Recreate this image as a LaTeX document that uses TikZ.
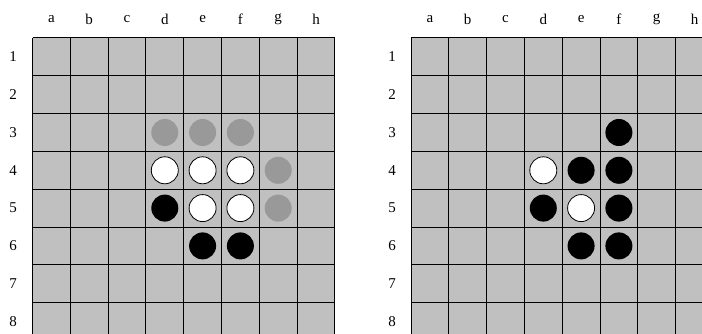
\documentclass[tikz,border=0pt]{standalone}
\usepackage{fontspec}
\setmainfont{Liberation Serif}
\definecolor{boardgray}{HTML}{C0C0C0}
\definecolor{hintgray}{HTML}{999999}
\tikzset{
  gridline/.style={draw=black, line width=1pt},
  disc/.style={circle, minimum size=27pt, inner sep=0pt, outer sep=0pt},
  blackdisc/.style={disc, fill=black},
  whitedisc/.style={disc, fill=white, draw=black, line width=0.8pt},
  hintdisc/.style={disc, fill=hintgray},
  lbl/.style={font=\fontsize{15}{15}\selectfont, inner sep=0pt}
}
\begin{document}
\begin{tikzpicture}[x=1pt,y=-1pt]
\useasboundingbox (0,0) rectangle (702,334);
\clip (0,0) rectangle (702,334);
\def\cs{37.8}
% ---------- left board ----------
\begin{scope}[shift={(32.5,38)}]
  \fill[boardgray] (0,0) rectangle (8*\cs,8*\cs);
  \foreach \i in {0,...,8} {
    \draw[gridline] (\i*\cs,0) -- (\i*\cs,8*\cs);
    \draw[gridline] (0,\i*\cs) -- (8*\cs,\i*\cs);
  }
  \foreach \l [count=\k] in {a,b,c,d,e,f,g,h}
    \node[lbl] (Lcol\k) at ({(\k-0.5)*\cs},-19) {\l};
  \foreach \k in {1,...,8}
    \node[lbl] (Lrow\k) at (-19.5,{(\k-0.5)*\cs}) {\k};
  \foreach \c/\r/\s in {4/3/hintdisc,5/3/hintdisc,6/3/hintdisc,7/4/hintdisc,7/5/hintdisc,
                        4/4/whitedisc,5/4/whitedisc,6/4/whitedisc,5/5/whitedisc,6/5/whitedisc,
                        4/5/blackdisc,5/6/blackdisc,6/6/blackdisc}
    \node[\s] (L\c-\r) at ({(\c-0.5)*\cs},{(\r-0.5)*\cs}) {};
\end{scope}
% ---------- right board ----------
\begin{scope}[shift={(411,38)}]
  \fill[boardgray] (0,0) rectangle (8*\cs,8*\cs);
  \foreach \i in {0,...,8} {
    \draw[gridline] (\i*\cs,0) -- (\i*\cs,8*\cs);
    \draw[gridline] (0,\i*\cs) -- (8*\cs,\i*\cs);
  }
  \foreach \l [count=\k] in {a,b,c,d,e,f,g,h}
    \node[lbl] (Rcol\k) at ({(\k-0.5)*\cs},-19) {\l};
  \foreach \k in {1,...,8}
    \node[lbl] (Rrow\k) at (-19,{(\k-0.5)*\cs}) {\k};
  \foreach \c/\r/\s in {6/3/blackdisc,5/4/blackdisc,6/4/blackdisc,4/5/blackdisc,6/5/blackdisc,
                        5/6/blackdisc,6/6/blackdisc,
                        4/4/whitedisc,5/5/whitedisc}
    \node[\s] (R\c-\r) at ({(\c-0.5)*\cs},{(\r-0.5)*\cs}) {};
\end{scope}
\end{tikzpicture}
\end{document}
